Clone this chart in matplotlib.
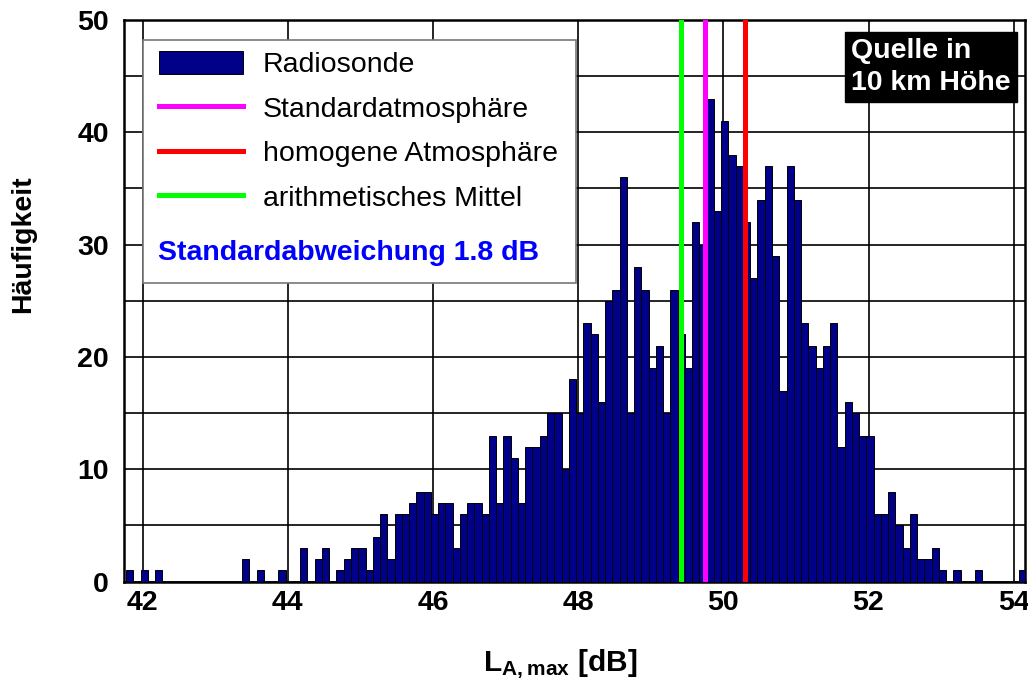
import numpy as np
import matplotlib
matplotlib.use("Agg")
import matplotlib.pyplot as plt
from matplotlib.patches import Patch, Rectangle
from matplotlib.lines import Line2D

# histogram of L_A,max, 0.1 dB bins starting at bin_start
bin_start = 41.77
bin_width = 0.1
counts = [1, 0, 1, 0, 1, 0, 0, 0, 0, 0,
          0, 0, 0, 0, 0, 0, 2, 0, 1, 0,
          0, 1, 0, 0, 3, 0, 2, 3, 0, 1,
          2, 3, 3, 1, 4, 6, 2, 6, 6, 7,
          8, 8, 6, 7, 7, 3, 6, 7, 7, 6,
          13, 7, 13, 11, 7, 12, 12, 13, 15, 15,
          10, 18, 15, 23, 22, 16, 25, 26, 36, 15,
          28, 26, 19, 21, 15, 26, 22, 19, 32, 30,
          43, 33, 41, 38, 37, 32, 27, 34, 37, 29,
          17, 37, 34, 23, 21, 19, 21, 23, 12, 16,
          15, 13, 13, 6, 6, 8, 5, 3, 6, 2,
          2, 3, 1, 0, 1, 0, 0, 1, 0, 0,
          0, 0, 0, 1]

mean_level = 49.41       # arithmetisches Mittel
std_atm_level = 49.75    # Standardatmosphaere
homog_level = 50.30      # homogene Atmosphaere

x_ticks = [42, 44, 46, 48, 50, 52, 54]
y_ticks = [0, 10, 20, 30, 40, 50]

plt.rcParams['font.family'] = ['Liberation Sans', 'DejaVu Sans']
plt.rcParams['mathtext.fontset'] = 'custom'
plt.rcParams['mathtext.rm'] = 'Liberation Sans'
plt.rcParams['mathtext.bf'] = 'Liberation Sans:bold'

fs = 20.5

fig = plt.figure(figsize=(10.28, 6.83), dpi=100)
ax = fig.add_axes([0.1206, 0.1486, 0.9971 - 0.1206, 0.9707 - 0.1486])

lefts = bin_start + bin_width * np.arange(len(counts))
ax.bar(lefts, counts, width=bin_width, align='edge', color='#000088',
       edgecolor='black', linewidth=0.7, zorder=3)

ax.axvline(mean_level, color='#00ff00', lw=3.6, zorder=4)
ax.axvline(std_atm_level, color='#ff00ff', lw=3.6, zorder=4)
ax.axvline(homog_level, color='#ff0000', lw=3.6, zorder=4)

ax.set_xlim(41.742, 54.156)
ax.set_ylim(0, 50)
ax.set_xticks(x_ticks)
ax.set_yticks(y_ticks)
ax.set_yticks(np.arange(5, 50, 10), minor=True)
ax.grid(True, which='both', color='black', lw=1.2, zorder=1)
ax.set_axisbelow(True)
ax.tick_params(which='both', length=0)
ax.tick_params(axis='x', pad=6)
ax.tick_params(axis='y', pad=11)
for lab in ax.get_xticklabels() + ax.get_yticklabels():
    lab.set_fontsize(fs)
    lab.set_fontweight('bold')
for s in ax.spines.values():
    s.set_linewidth(1.8)

ax.set_ylabel('Häufigkeit', fontsize=fs, fontweight='bold')
ax.yaxis.set_label_coords(-0.097, 0.6)
ax.set_xlabel(r'$\mathbf{L_{A,max}}$ [dB]', fontsize=fs + 1, fontweight='bold')
ax.xaxis.set_label_coords(0.484, -0.118)

# legend box
box = Rectangle((0.0208, 0.5311), 0.5017 - 0.0208, 0.9644 - 0.5311,
                transform=ax.transAxes, facecolor='white', edgecolor='#777777',
                lw=1.2, zorder=5)
ax.add_patch(box)

handles = [Patch(facecolor='#000088', edgecolor='black', lw=0.7),
           Line2D([], [], color='#ff00ff', lw=3.6),
           Line2D([], [], color='#ff0000', lw=3.6),
           Line2D([], [], color='#00ff00', lw=3.6)]
labels = ['Radiosonde', 'Standardatmosphäre', 'homogene Atmosphäre',
          'arithmetisches Mittel']
leg = ax.legend(handles, labels, loc='upper left',
                bbox_to_anchor=(0.0392, 0.945), frameon=False,
                fontsize=fs, borderpad=0, borderaxespad=0,
                handlelength=2.95, handleheight=0.88, handletextpad=0.68,
                labelspacing=0.6)
leg.set_zorder(6)

ax.text(0.0377, 0.585, 'Standardabweichung 1.8 dB', transform=ax.transAxes,
        color='#0000ff', fontsize=fs, fontweight='bold', va='center',
        ha='left', zorder=7)

ax.text(0.807, 0.968, 'Quelle in\n10 km Höhe', transform=ax.transAxes,
        color='white', fontsize=fs, fontweight='bold', va='top',
        ha='left', linespacing=1.3, zorder=7,
        bbox=dict(facecolor='black', edgecolor='black', pad=4.5))

fig.savefig('out.png', dpi=100)
